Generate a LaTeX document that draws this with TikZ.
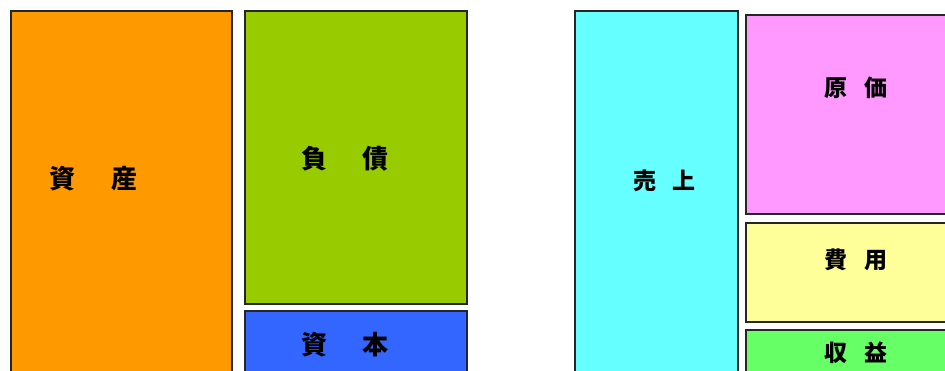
\documentclass[tikz,border=0pt]{standalone}
\usepackage{fontspec}
\newfontfamily\cjk{Noto Sans CJK JP}
\definecolor{cOrange}{HTML}{FF9900}
\definecolor{cLime}{HTML}{99CC00}
\definecolor{cBlue}{HTML}{3366FF}
\definecolor{cCyan}{HTML}{66FFFF}
\definecolor{cPink}{HTML}{FF99FF}
\definecolor{cYellow}{HTML}{FFFF99}
\definecolor{cGreen}{HTML}{66FF66}
\begin{document}
\begin{tikzpicture}[x=1pt,y=-1pt,
  box/.style={draw=black!85,line width=1.1pt,anchor=north west,inner sep=0pt,outer sep=0pt},
  bigtxt/.style={font=\cjk\bfseries\fontsize{26}{26}\selectfont,inner sep=0pt},
  smalltxt/.style={font=\cjk\bfseries\fontsize{23}{23}\selectfont,inner sep=0pt}]
\useasboundingbox (0,0) rectangle (945,371);
\clip (0,0) rectangle (945,371);
\node[box,fill=cOrange,minimum width=221pt,minimum height=380pt] (assets) at (11,11) {};
\node[box,fill=cLime,minimum width=222pt,minimum height=293pt] (liab) at (245,11) {};
\node[box,fill=cBlue,minimum width=222pt,minimum height=80pt] (cap) at (245,311) {};
\node[box,fill=cCyan,minimum width=163pt,minimum height=380pt] (sales) at (575,11) {};
\node[box,fill=cPink,minimum width=220pt,minimum height=199pt] (cost) at (746,15) {};
\node[box,fill=cYellow,minimum width=220pt,minimum height=99pt] (exp) at (746,223) {};
\node[box,fill=cGreen,minimum width=220pt,minimum height=60pt] (profit) at (746,330) {};
\node[bigtxt] (tassets) at (93.5,179) {資\hspace{37pt}産};
\node[bigtxt] (tliab) at (345,159) {負\hspace{36pt}債};
\node[bigtxt] (tcap) at (345,345) {資\hspace{36pt}本};
\node[smalltxt] (tsales) at (664.5,181) {売\hspace{16pt}上};
\node[smalltxt] (tcost) at (856,88) {原\hspace{17pt}価};
\node[smalltxt] (texp) at (856,260) {費\hspace{17pt}用};
\node[smalltxt] (tprofit) at (856,353) {収\hspace{17pt}益};
\end{tikzpicture}
\end{document}
